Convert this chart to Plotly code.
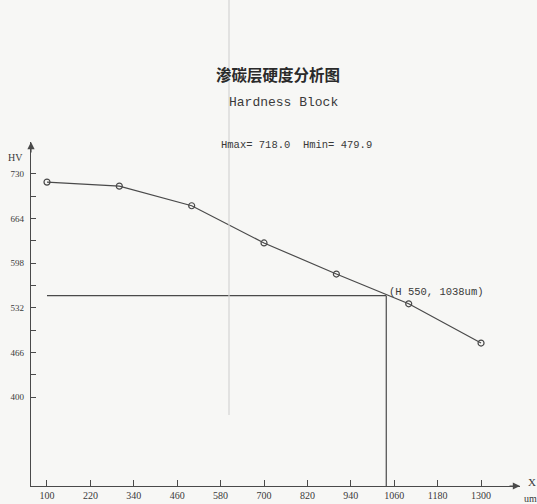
import plotly.graph_objects as go

# ---- data ----
depth_um = [100, 300, 500, 700, 900, 1100, 1300]
hardness_hv = [718.0, 712, 683, 628, 582, 538, 479.9]
x_tick_vals = [100, 220, 340, 460, 580, 700, 820, 940, 1060, 1180, 1300]
y_tick_vals = [730, 664, 598, 532, 466, 400]
y_minor_vals = [697, 631, 565, 499, 433]
h_limit = 550
h_depth = 1038

title_cn = "渗碳层硬度分析图"
title_en = "Hardness Block"

X_RANGE = [55.8, 1407.7]
Y_RANGE = [268.5, 777.3]

ink = "#4a4a4a"
txt = "#3a3a3a"

fig = go.Figure()

# reference lines (H = 550 at depth 1038)
fig.add_trace(go.Scatter(x=[depth_um[0], h_depth], y=[h_limit, h_limit], mode="lines",
                         line=dict(color=ink, width=1.2), hoverinfo="skip", showlegend=False))
fig.add_trace(go.Scatter(x=[h_depth, h_depth], y=[h_limit, Y_RANGE[0]], mode="lines",
                         line=dict(color=ink, width=1.2), hoverinfo="skip", showlegend=False))

# hardness curve
fig.add_trace(go.Scatter(x=depth_um, y=hardness_hv, mode="lines+markers",
                         line=dict(color=ink, width=1.2),
                         marker=dict(symbol="circle-open", size=6, color=ink, line=dict(width=1.2)),
                         showlegend=False))

fig.add_annotation(x=h_depth, y=h_limit, xref="x", yref="y",
                   text=f"(H {h_limit}, {h_depth}um)", showarrow=False,
                   xanchor="left", yanchor="bottom", xshift=1, yshift=-4,
                   font=dict(family="Liberation Mono", size=10.5, color=txt))

W, H = 537, 504
ML, MR, MT, MB = 31, 17, 142, 18
pw, ph = W - ML - MR, H - MT - MB


def px_note(px, py, text, family, size, color=txt):
    fig.add_annotation(x=(px - ML) / pw, y=(H - MB - py) / ph, xref="paper", yref="paper",
                       text=text, showarrow=False, xanchor="center", yanchor="middle",
                       font=dict(family=family, size=size, color=color))


# titles
px_note(278, 74, f"<b>{title_cn}</b>", "Noto Sans CJK SC", 15.5, "#2a2a2a")
px_note(283, 102, title_en, "Liberation Mono", 13)
px_note(296, 145, f"Hmax= {max(hardness_hv):.1f}  Hmin= {min(hardness_hv):.1f}", "Liberation Mono", 10.5)

# axis labels
px_note(15, 157, "HV", "Liberation Serif", 10)
px_note(532, 482, "X", "Liberation Serif", 11)
px_note(530, 498, "um", "Liberation Serif", 10)

# axis arrows
fig.add_annotation(x=0, y=1.0, xref="paper", yref="paper", ax=0, ay=12, axref="pixel", ayref="pixel",
                   text="", showarrow=True, arrowhead=2, arrowsize=1.2, arrowwidth=1.2, arrowcolor=ink)
fig.add_annotation(x=1.0, y=0, xref="paper", yref="paper", ax=-12, ay=0,
                   text="", showarrow=True, arrowhead=2, arrowsize=1.2, arrowwidth=1.2, arrowcolor=ink)

# faint vertical line from the photo
fig.add_shape(type="line", xref="paper", yref="paper",
              x0=(229 - ML) / pw, x1=(229 - ML) / pw, y0=(H - MB - 0) / ph, y1=(H - MB - 415) / ph,
              line=dict(color="#d4d4d4", width=1.2))

fig.update_xaxes(range=X_RANGE, tickvals=x_tick_vals, ticks="inside", ticklen=6, tickcolor=ink,
                 showline=True, linecolor=ink, linewidth=1.2, showgrid=False, zeroline=False,
                 automargin=False,
                 tickfont=dict(family="Liberation Serif", size=10, color=txt))
fig.update_yaxes(range=Y_RANGE, tickvals=y_tick_vals, ticks="inside", ticklen=5, tickcolor=ink,
                 minor=dict(tickvals=y_minor_vals, ticks="inside", ticklen=5, tickcolor=ink),
                 showline=True, linecolor=ink, linewidth=1.2, showgrid=False, zeroline=False,
                 ticklabelstandoff=4, automargin=False,
                 tickfont=dict(family="Liberation Serif", size=9, color=txt))

fig.update_layout(width=W, height=H, margin=dict(l=ML, r=MR, t=MT, b=MB, autoexpand=False),
                  paper_bgcolor="#f7f7f5", plot_bgcolor="#f7f7f5")

fig.write_html("out.html", config={"displayModeBar": False},
               post_script="document.body.style.margin='0';document.body.style.overflow='hidden';")
